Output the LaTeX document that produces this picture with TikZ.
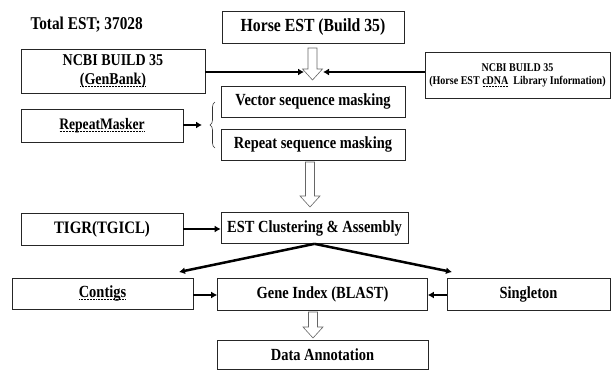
\documentclass[tikz,border=0pt]{standalone}
\usepackage{fontspec}
\setmainfont{Liberation Serif}[FakeStretch=0.85]
\usetikzlibrary{arrows.meta,decorations.pathreplacing}
\newcommand\hollowarrow[3]{%
  \draw[hollow] (#1-4.5,#2) -- (#1+4.5,#2) -- (#1+4.5,#3-11) -- (#1+10,#3-11) -- (#1,#3)
    -- (#1-10,#3-11) -- (#1-4.5,#3-11) -- cycle;}
\newcommand\dotul[1]{\setbox0=\hbox{#1}\leavevmode\rlap{\raisebox{-2.5pt}{\hbox to\wd0{\xleaders\hbox to 1.5pt{\hss\rule{0.8pt}{0.6pt}\hss}\hfill}}}\box0}
\begin{document}
\begin{tikzpicture}[x=1pt,y=-1pt,
  box/.style={draw=black!85, line width=0.7pt, inner sep=1pt, align=center,
    font=\bfseries\fontsize{17}{19}\selectfont},
  thickarrow/.style={line width=2.5pt, -{Latex[length=6pt,width=7pt]}},
  hollow/.style={draw=black!60, line width=0.6pt, fill=white},
  brc/.style={draw=black!80, line width=0.6pt, decorate, decoration={brace, amplitude=5pt}}]
\useasboundingbox (0,0) rectangle (611,370);

\node[anchor=west, font=\bfseries\fontsize{18}{20}\selectfont] (total) at (27,25) {Total EST; 37028};

\node[box, minimum width=182pt, minimum height=32pt, font=\bfseries\fontsize{18.5}{20}\selectfont] (horse) at (313,27) {Horse EST (Build 35)};
\node[box, minimum width=184pt, minimum height=44pt, font=\bfseries\fontsize{16.5}{19}\selectfont] (genbank) at (113,71) {NCBI BUILD 35\\\dotul{(GenBank)}};
\node[box, minimum width=185pt, minimum height=46pt, font=\bfseries\fontsize{11.8}{13}\selectfont] (ncbi) at (517.5,75) {NCBI BUILD 35\\(Horse EST \dotul{cDNA}\ \ Library Information)};
\node[box, minimum width=184pt, minimum height=31pt] (vector) at (313,101.5) {Vector sequence masking};
\node[box, minimum width=184pt, minimum height=31pt] (repeat) at (313,144.5) {Repeat sequence masking};
\node[box, minimum width=162pt, minimum height=33pt, font=\bfseries\fontsize{16}{18}\selectfont] (rmask) at (102,125.5) {\dotul{RepeatMasker}};
\node[box, minimum width=187pt, minimum height=31pt] (est) at (314.5,228) {EST Clustering \& Assembly};
\node[box, minimum width=162pt, minimum height=32pt, font=\bfseries\fontsize{17.5}{19}\selectfont] (tigr) at (102,229) {TIGR(TGICL)};
\node[box, minimum width=181pt, minimum height=31pt] (contigs) at (102.5,293.5) {\dotul{Contigs}};
\node[box, minimum width=210pt, minimum height=32pt] (gene) at (322.5,294) {Gene Index (BLAST)};
\node[box, minimum width=163pt, minimum height=32pt] (single) at (528.5,294) {Singleton};
\node[box, minimum width=211pt, minimum height=29pt] (data) at (322.5,354.5) {Data Annotation};

% hollow arrows
\hollowarrow{312.5}{48}{80}
\hollowarrow{310}{162}{207}
\hollowarrow{313}{312}{338}

\coordinate (hl) at (304,72);
\coordinate (hr) at (323,72);
\draw[thickarrow] (genbank.east |- hl) -- (hl);
\draw[thickarrow] (ncbi.west |- hr) -- (hr);

% brace
\draw[brc] (215,148) -- (215,102);
\coordinate (btip) at (202,125);
\draw[thickarrow] (rmask.east |- btip) -- (btip);

\draw[thickarrow] (tigr.east) -- (est.west |- tigr.east);

\coordinate (lt) at (179,272);
\coordinate (rt) at (452,272);
\draw[thickarrow] (est.south) -- (lt);
\draw[thickarrow] (est.south) -- (rt);

\coordinate (ca) at (193,295);
\coordinate (sa) at (447,295);
\draw[thickarrow] (ca) -- (gene.west |- ca);
\draw[thickarrow] (sa) -- (gene.east |- sa);
\end{tikzpicture}
\end{document}
